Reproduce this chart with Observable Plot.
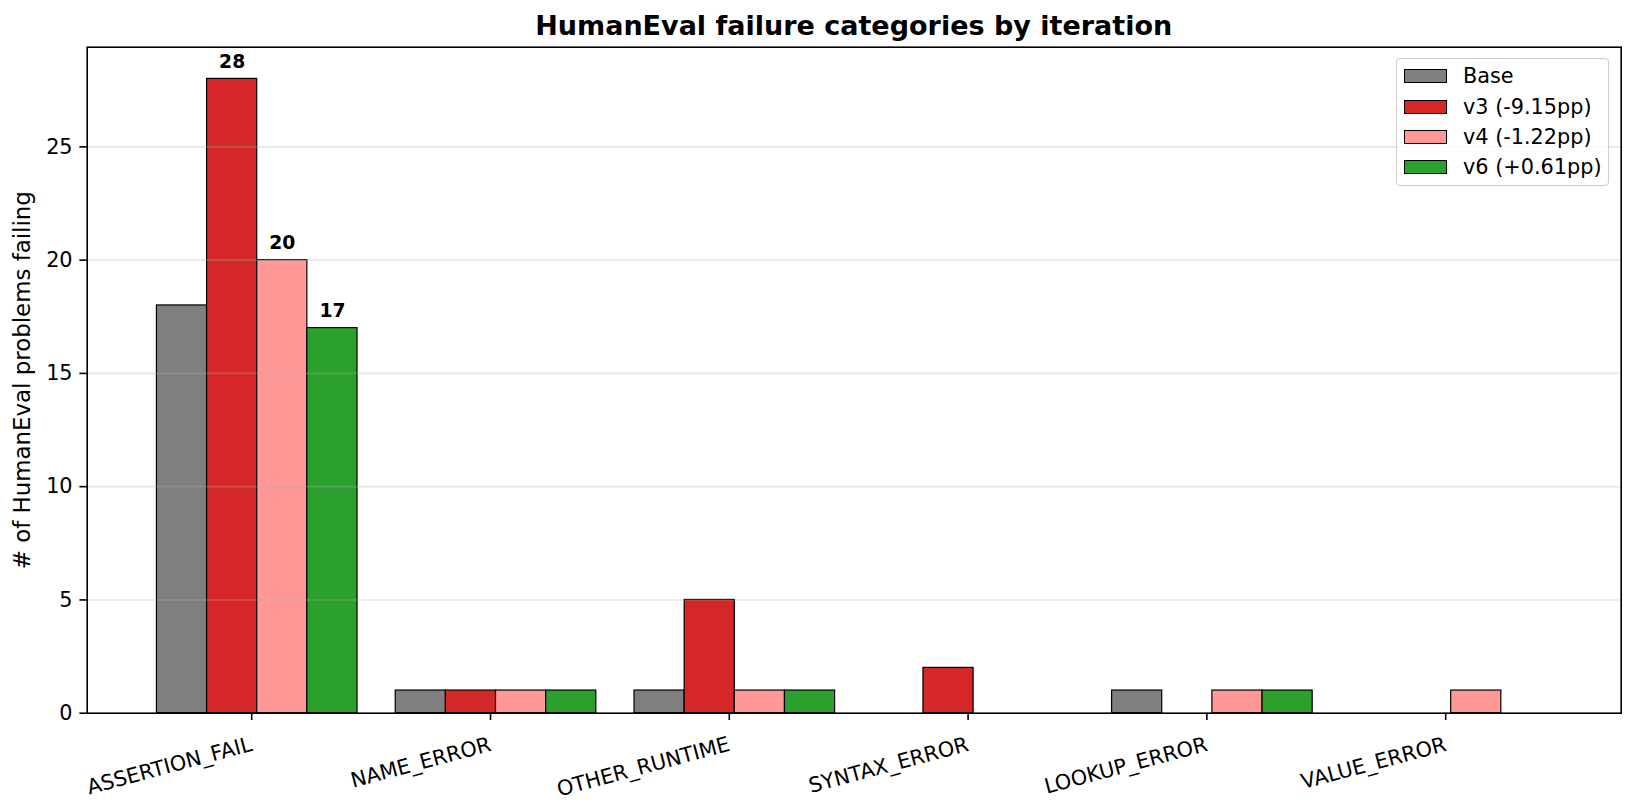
<!DOCTYPE html>
<html>
<head>
<meta charset="utf-8">
<script src="https://cdn.jsdelivr.net/npm/d3@7"></script>
<script src="https://cdn.jsdelivr.net/npm/@observablehq/plot@0.6"></script>
<style>
  html, body { margin: 0; padding: 0; background: #fff; }
  #wrap { position: relative; width: 1635px; height: 809px; font-family: "DejaVu Sans", sans-serif; }
  #title { box-sizing: border-box; height: 40px; width: 1635px; padding-left: 72.4px; padding-top: 12px;
           font-size: 27px; line-height: 27px; font-weight: bold; text-align: center; color: #000; white-space: nowrap; }
  #legend { position: absolute; left: 1396px; top: 58.3px; width: 213px; height: 127.4px; box-sizing: border-box;
            border: 1px solid #cccccc; border-radius: 4px; background: rgba(255,255,255,0.8); padding-top: 1.85px; }
  .row { height: 30.3px; display: flex; align-items: center; font-size: 20.8px; color: #000; }
  .patch { box-sizing: border-box; width: 42.7px; height: 14px; border: 1.2px solid #000; margin-left: 7px; margin-right: 16.3px; }
  #chart svg g[aria-label="y-axis label"] text { font-size: 22.9px; }
</style>
</head>
<body>
<div id="wrap">
  <div id="title"></div>
  <div id="chart"></div>
  <div id="legend"></div>
</div>
<script>
const titleText = "HumanEval failure categories by iteration";
const yLabel = "# of HumanEval problems failing";
const categories = ["ASSERTION_FAIL", "NAME_ERROR", "OTHER_RUNTIME", "SYNTAX_ERROR", "LOOKUP_ERROR", "VALUE_ERROR"];
const seriesNames = ["Base", "v3 (-9.15pp)", "v4 (-1.22pp)", "v6 (+0.61pp)"];
const seriesColors = ["#7f7f7f", "#d62728", "#ff9896", "#2ca02c"];
const baseValues = [18, 1, 1, 0, 1, 0];
const v3Values = [28, 1, 5, 2, 0, 0];
const v4Values = [20, 1, 1, 0, 1, 1];
const v6Values = [17, 1, 1, 0, 1, 0];
const yTicks = [0, 5, 10, 15, 20, 25];
const annotatedCategory = "ASSERTION_FAIL";
const annotatedSeries = ["v3 (-9.15pp)", "v4 (-1.22pp)", "v6 (+0.61pp)"];

const barWidth = 0.21;
const allValues = [baseValues, v3Values, v4Values, v6Values];
const rows = [];
categories.forEach((c, i) => {
  seriesNames.forEach((s, j) => {
    const x1 = i + (j - 1.5) * barWidth - barWidth / 2;
    rows.push({category: c, series: s, value: allValues[j][i], x1, x2: x1 + barWidth, xc: x1 + barWidth / 2});
  });
});
const bars = rows.filter(d => d.value > 0);
const labels = rows.filter(d => d.category === annotatedCategory && annotatedSeries.includes(d.series));

document.getElementById("title").textContent = titleText;

const chart = Plot.plot({
  width: 1635,
  height: 769,
  marginLeft: 86.7,
  marginRight: 14.3,
  marginTop: 6.7,
  marginBottom: 96.3,
  style: {fontFamily: "DejaVu Sans", fontSize: "20.8px", color: "#000", background: "#fff"},
  x: {type: "linear", domain: [-0.712, 5.712]},
  y: {domain: [0, 29.4]},
  color: {domain: seriesNames, range: seriesColors},
  marks: [
    Plot.rect(bars, {x1: "x1", x2: "x2", y1: 0, y2: "value", fill: "series", stroke: "#000", strokeWidth: 1.2}),
    Plot.ruleY(yTicks.filter(t => t > 0), {stroke: "#b0b0b0", strokeOpacity: 0.3, strokeWidth: 1.6}),
    Plot.text(labels, {x: "xc", y: "value", text: d => String(d.value), fontWeight: "bold", fontSize: 18.75, lineAnchor: "bottom", dy: -11, fill: "#000"}),
    Plot.axisY({ticks: yTicks, tickSize: 7.3, tickPadding: 7.3, tickFormat: d => String(d), stroke: "#000", strokeWidth: 1.6,
      label: yLabel, labelAnchor: "center", labelArrow: "none", labelOffset: 73.5}),
    Plot.axisX({ticks: d3.range(categories.length), tickFormat: i => categories[i], tickSize: 7.3, tickPadding: 23.5, tickRotate: -15,
      textAnchor: "end", lineAnchor: "middle", dx: -5.5, stroke: "#000", strokeWidth: 1.6, label: null}),
    Plot.frame({stroke: "#000", strokeWidth: 1.6})
  ]
});
document.getElementById("chart").appendChild(chart);

const legend = document.getElementById("legend");
seriesNames.forEach((s, j) => {
  const row = document.createElement("div");
  row.className = "row";
  const p = document.createElement("div");
  p.className = "patch";
  p.style.background = seriesColors[j];
  const t = document.createElement("span");
  t.textContent = s;
  row.appendChild(p);
  row.appendChild(t);
  legend.appendChild(row);
});
</script>
</body>
</html>
